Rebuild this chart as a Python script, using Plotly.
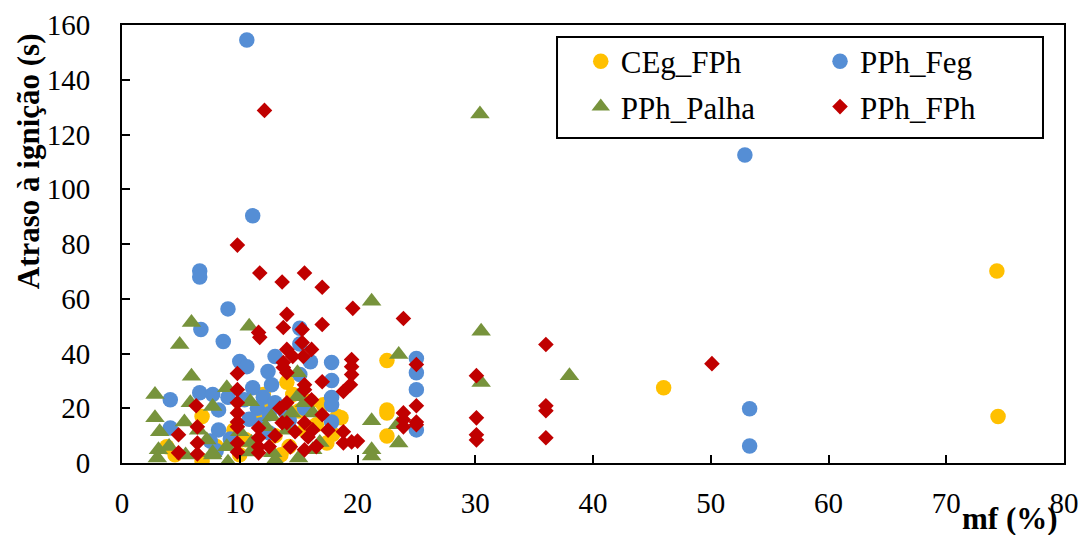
import plotly.graph_objects as go

# Ignition delay (s) versus moisture content mf (%) for four fuel sets
ceg_fph_x = [3.8, 6.8, 6.8, 4.5, 9.5, 10.5, 11.5, 12.5, 13.0, 14.0, 14.5, 15.0, 15.5, 16.0,
             16.5, 17.1, 17.4, 18.3, 17.9, 18.6, 14.2, 13.5, 8.0, 12.0, 10.0,
             22.5, 22.5, 22.5, 22.5, 46.0, 74.3, 74.4]
ceg_fph_y = [5.9, 17.0, 0.8, 3.0, 12.0, 8.5, 15.5, 20.0, 10.0, 29.5, 25.0, 19.0, 12.0, 22.5,
             14.0, 21.3, 7.3, 17.0, 10.5, 16.5, 6.0, 3.0, 6.0, 25.0, 3.0,
             37.4, 19.4, 18.3, 9.9, 27.5, 70.1, 17.0]

pph_feg_x = [10.6, 11.1, 6.6, 6.6, 9.0, 6.7, 8.6, 10.0, 10.6, 13.0, 12.4, 15.1, 15.1, 15.1,
             17.8, 17.8, 17.8, 17.8, 17.8, 25.0, 25.0, 25.0, 25.0, 52.9, 53.3, 53.3,
             4.1, 4.1, 6.6, 7.7, 8.2, 8.2, 9.0, 10.4, 11.1, 12.7, 12.0, 11.5, 12.5, 13.0,
             11.8, 10.8, 9.2, 8.0, 7.5, 12.5, 13.8, 14.2, 16.0, 15.5]
pph_feg_y = [154.5, 90.3, 70.1, 67.9, 56.3, 48.8, 44.4, 37.1, 35.2, 38.9, 33.4, 49.2, 43.5, 32.3,
             36.7, 30.1, 23.9, 21.3, 15.0, 38.2, 33.0, 26.8, 12.1, 112.5, 19.8, 6.2,
             23.1, 12.8, 25.7, 25.0, 19.4, 12.1, 24.0, 23.1, 27.5, 28.6, 24.0, 20.0, 18.0, 22.0,
             14.0, 16.0, 8.8, 4.5, 8.0, 11.0, 19.0, 15.5, 37.0, 20.0]

pph_palha_x = [30.4, 21.2, 5.9, 10.8, 4.9, 30.5, 23.5, 38.0, 30.5, 5.9, 2.8, 5.8, 7.7, 8.9,
               10.9, 2.8, 3.2, 5.3, 7.2, 3.1, 3.0, 5.4, 7.7, 8.9, 7.7, 10.9, 12.8, 9.0,
               12.7, 12.2, 10.0, 14.9, 14.4, 16.2, 16.2, 15.0, 21.2, 23.4, 23.5, 21.2, 21.2,
               13.0, 11.0, 14.0, 15.5, 16.8, 6.5, 4.0, 14.9]
pph_palha_y = [127.5, 59.1, 51.3, 50.0, 43.3, 48.1, 39.6, 31.9, 29.4, 31.7, 25.0, 22.0, 20.6, 27.5,
               22.4, 16.5, 11.4, 15.0, 8.4, 4.8, 1.8, 2.9, 2.9, 5.9, 3.7, 4.0, 3.7, 0.3,
               16.9, 13.2, 11.4, 24.2, 18.3, 18.3, 4.8, 1.8, 15.4, 14.0, 7.3, 4.8, 2.6,
               1.0, 7.5, 12.0, 22.0, 7.5, 12.0, 6.0, 33.0]

pph_fph_x = [12.1, 9.8, 11.7, 13.6, 15.5, 17.0, 19.6, 23.9, 14.0, 17.0, 15.3, 13.7, 11.6, 11.7,
             15.3, 16.1, 14.0, 14.5, 15.4, 13.7, 13.7, 19.5, 19.5, 19.5, 17.0, 18.8, 14.0,
             15.5, 15.5, 16.1, 14.0, 17.0, 18.8, 19.5, 18.8, 15.5, 14.0, 14.7, 15.8, 14.3,
             15.5, 16.2, 9.8, 9.8, 9.8, 9.8, 9.8, 9.8, 9.8, 9.8, 11.6, 11.6, 11.6, 11.6,
             13.6, 6.3, 4.8, 6.4, 6.4, 4.8, 6.4, 25.0, 25.0, 23.9, 23.9, 23.9, 25.0, 25.0,
             30.1, 36.0, 50.1, 36.0, 36.0, 30.1, 30.1, 30.1, 36.0, 13.0, 12.5, 17.5, 16.5,
             20.0, 13.4, 19.4]
pph_fph_y = [128.8, 79.6, 69.4, 66.1, 69.4, 64.2, 56.5, 52.8, 54.3, 50.6, 48.8, 49.5, 47.7, 45.9,
             44.0, 41.5, 41.5, 38.9, 38.9, 36.7, 34.9, 37.8, 35.2, 32.3, 29.7, 26.1, 33.0,
             28.6, 26.8, 23.1, 22.0, 17.6, 11.4, 7.7, 7.3, 14.7, 14.7, 11.4, 9.5, 5.9,
             4.8, 12.1, 32.7, 26.8, 22.0, 18.3, 15.0, 13.2, 7.3, 4.0, 12.8, 9.2, 5.9, 3.7,
             14.7, 20.9, 10.3, 13.2, 7.3, 3.7, 3.3, 36.0, 20.9, 18.3, 15.8, 13.2, 15.0, 14.0,
             31.9, 43.3, 36.3, 20.9, 19.1, 16.5, 10.3, 8.4, 9.2, 10.0, 6.0, 12.0, 6.0,
             8.0, 20.0, 28.6]

x_ticks = [0, 10, 20, 30, 40, 50, 60, 70, 80]
y_ticks = [0, 20, 40, 60, 80, 100, 120, 140, 160]

SERIF = "Liberation Serif"

fig = go.Figure()
series = [
    ("CEg_FPh", ceg_fph_x, ceg_fph_y, "circle", 15.5, "#FFC000", "legend"),
    ("PPh_Feg", pph_feg_x, pph_feg_y, "circle", 15.5, "#558ED5", "legend2"),
    ("PPh_Palha", pph_palha_x, pph_palha_y, "triangle-up", 17, "#77933C", "legend"),
    ("PPh_FPh", pph_fph_x, pph_fph_y, "diamond", 12, "#C00000", "legend2"),
]
for name, xs, ys, sym, size, color, leg in series:
    fig.add_trace(go.Scatter(
        x=xs, y=ys, mode="markers", name=name, legend=leg, legendgroup=name,
        marker=dict(symbol=sym, size=size, color=color, line=dict(width=0)),
    ))

axis_common = dict(
    showgrid=False, zeroline=False, showline=True, linecolor="black", linewidth=2,
    mirror=True, ticks="inside", ticklen=8, tickwidth=2, tickcolor="black",
    ticklabeloverflow="allow",
    tickfont=dict(family=SERIF, size=29, color="black"),
)

legend_common = dict(
    xanchor="left", yanchor="top",
    font=dict(family=SERIF, size=31, color="black"),
    bgcolor="rgba(0,0,0,0)", tracegroupgap=2, itemsizing="trace",
)

fig.update_layout(
    width=1078, height=535,
    margin=dict(l=122, r=14, t=25, b=72, autoexpand=False),
    paper_bgcolor="white", plot_bgcolor="white",
    xaxis=dict(range=[0, 80], tickvals=x_ticks, ticklabelstandoff=13, **axis_common),
    yaxis=dict(range=[0, 160], tickvals=y_ticks, ticklabelstandoff=24, **axis_common),
    legend=dict(x=0.487, y=0.978, **legend_common),
    legend2=dict(x=0.741, y=0.978, **legend_common),
    showlegend=True,
)

# Frame around the two legend columns
fig.add_shape(type="rect", xref="paper", yref="paper",
              x0=0.4618, x1=0.9777, y0=0.742, y1=0.9726,
              line=dict(color="black", width=2), fillcolor="rgba(0,0,0,0)")

# Axis titles
fig.add_annotation(text="<b>Atraso à ignição (s)</b>", textangle=-90,
                   xref="paper", yref="paper", x=0, xshift=-94, y=0.689,
                   xanchor="center", yanchor="middle", showarrow=False,
                   font=dict(family=SERIF, size=31, color="black"))
fig.add_annotation(text="<b>mf (%)</b>", xref="paper", yref="paper",
                   x=0.943, y=-0.126, xanchor="center", yanchor="middle",
                   showarrow=False, font=dict(family=SERIF, size=31, color="black"))

fig.write_html("out.html")
